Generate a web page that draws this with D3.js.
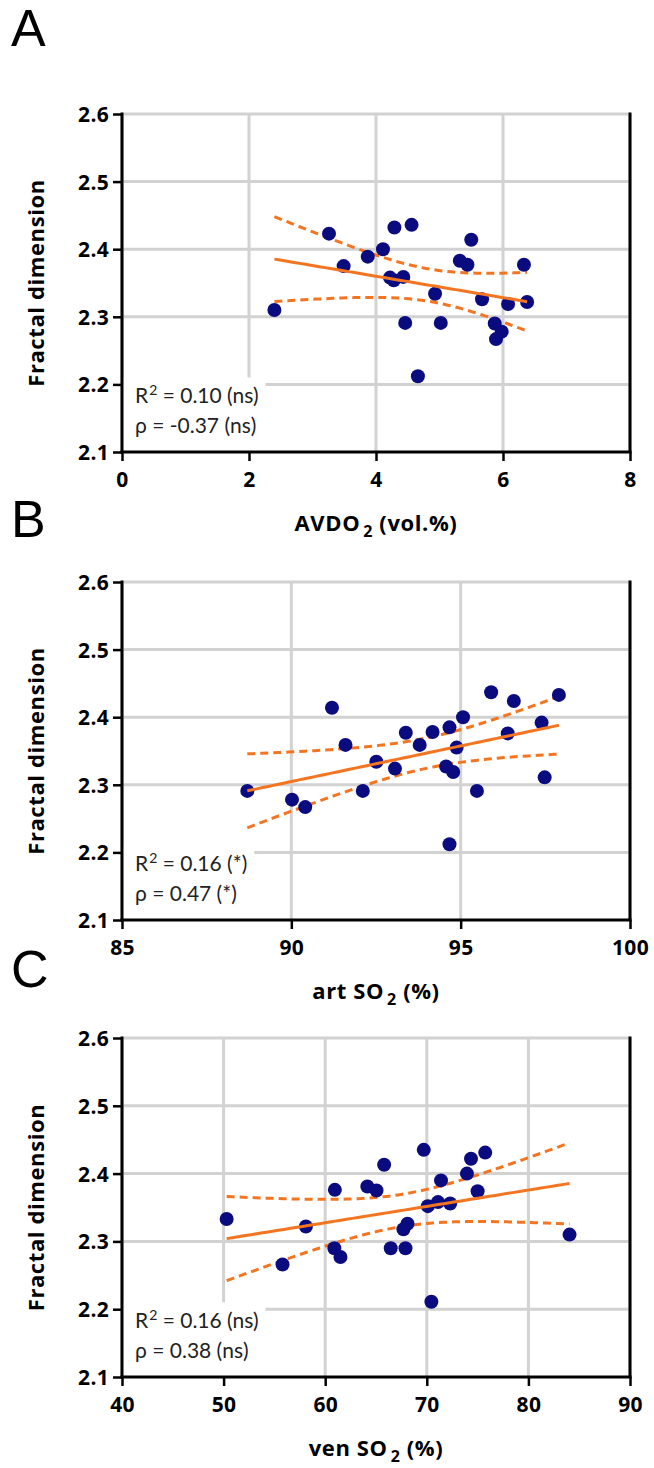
<!DOCTYPE html>
<html>
<head>
<meta charset="utf-8">
<script src="https://cdn.jsdelivr.net/npm/d3@7"></script>
<style>
  html, body { margin: 0; padding: 0; background: #fff; }
  svg { display: block; }
</style>
</head>
<body>
<script>
// ---------------- data ----------------
const yTicks = [2.1, 2.2, 2.3, 2.4, 2.5, 2.6];

// Panel A: AVDO2 (vol.%) vs fractal dimension
const avdo2 = [2.40, 3.26, 3.49, 3.87, 4.11, 4.29, 4.56, 4.22, 4.28, 4.43, 4.46, 4.66,
               4.93, 5.02, 5.32, 5.44, 5.50, 5.67, 5.87, 5.89, 5.98, 6.08, 6.33, 6.38];
const fractalA = [2.310, 2.423, 2.375, 2.389, 2.400, 2.432, 2.436, 2.358, 2.354, 2.359, 2.291, 2.212,
                  2.334, 2.291, 2.383, 2.377, 2.414, 2.326, 2.290, 2.267, 2.278, 2.319, 2.377, 2.322];
const xTicksA = [0, 2, 4, 6, 8];

// Panel B: art SO2 (%)
const artSO2 = [88.70, 90.02, 90.41, 91.20, 91.60, 92.11, 92.51, 93.06, 93.38, 93.79, 94.17, 94.67,
                94.57, 94.78, 94.88, 94.67, 95.07, 95.48, 95.90, 96.57, 96.39, 97.39, 97.48, 97.90];
const fractalB = [2.291, 2.278, 2.267, 2.414, 2.359, 2.291, 2.334, 2.324, 2.377, 2.359, 2.378, 2.385,
                  2.327, 2.319, 2.355, 2.212, 2.400, 2.291, 2.437, 2.424, 2.376, 2.392, 2.311, 2.433];
const xTicksB = [85, 90, 95, 100];

// Panel C: ven SO2 (%)
const venSO2 = [50.30, 55.80, 58.10, 60.95, 60.90, 61.50, 64.15, 65.05, 65.80, 66.45, 67.70, 68.10,
                67.90, 69.70, 70.10, 70.45, 71.10, 71.40, 72.30, 73.95, 74.35, 75.00, 75.75, 84.05];
const fractalC = [2.333, 2.266, 2.322, 2.376, 2.290, 2.277, 2.381, 2.375, 2.413, 2.290, 2.318, 2.326,
                  2.290, 2.435, 2.352, 2.211, 2.358, 2.390, 2.356, 2.400, 2.422, 2.374, 2.431, 2.310];
const xTicksC = [40, 50, 60, 70, 80, 90];

const panelLetters = ["A", "B", "C"];
const yTitle = "Fractal dimension";
const xTitles = [["AVDO", "2", " (vol.%)"], ["art SO", "2", " (%)"], ["ven SO", "2", " (%)"]];
const statsR2 = [" = 0.10 (ns)", " = 0.16 (*)", " = 0.16 (ns)"];
const statsRho = ["ρ = -0.37 (ns)", "ρ = 0.47 (*)", "ρ = 0.38 (ns)"];

// ---------------- layout / style ----------------
const W = 654, H = 1468;
const LEFT = 122, RIGHT = 630;
const panelTops = [114, 582, 1038];
const panelBottoms = [452, 920, 1377];
const letterBaselines = [46, 537, 987];
const GRID = "#d2d2d2", ORANGE = "#f47521", NAVY = "#0b0b80";

const panels = [
  { xs: avdo2, ys: fractalA, ticks: xTicksA, domain: [0, 8] },
  { xs: artSO2, ys: fractalB, ticks: xTicksB, domain: [85, 100] },
  { xs: venSO2, ys: fractalC, ticks: xTicksC, domain: [40, 90] }
];

const svg = d3.select("body").append("svg").attr("width", W).attr("height", H);

function fitLine(xs, ys) {
  const n = xs.length;
  const mx = d3.mean(xs), my = d3.mean(ys);
  let sxx = 0, sxy = 0;
  for (let i = 0; i < n; i++) { sxx += (xs[i] - mx) ** 2; sxy += (xs[i] - mx) * (ys[i] - my); }
  const b = sxy / sxx, a = my - b * mx;
  let sse = 0;
  for (let i = 0; i < n; i++) sse += (ys[i] - a - b * xs[i]) ** 2;
  const s = Math.sqrt(sse / (n - 2));
  const t = 2.074; // t(0.975, 22)
  const lo = d3.min(xs), hi = d3.max(xs);
  const grid = d3.range(0, 61).map(k => lo + (hi - lo) * k / 60);
  const band = grid.map(x => {
    const yhat = a + b * x;
    const h = t * s * Math.sqrt(1 / n + (x - mx) ** 2 / sxx);
    return { x, yhat, up: yhat + h, dn: yhat - h };
  });
  return { a, b, lo, hi, band };
}

panels.forEach((p, i) => {
  const top = panelTops[i], bottom = panelBottoms[i];
  const x = d3.scaleLinear().domain(p.domain).range([LEFT, RIGHT]);
  const y = d3.scaleLinear().domain([2.1, 2.6]).range([bottom, top]);
  const g = svg.append("g");

  // panel letter
  svg.append("text").attr("x", 11).attr("y", letterBaselines[i])
    .attr("font-family", "Liberation Sans, Arial, sans-serif").attr("font-size", 52)
    .attr("fill", "#000").text(panelLetters[i]);

  // gridlines
  g.selectAll(".vg").data(p.ticks).join("line")
    .attr("x1", d => x(d)).attr("x2", d => x(d)).attr("y1", top).attr("y2", bottom)
    .attr("stroke", GRID).attr("stroke-width", 3);
  g.selectAll(".hg").data(yTicks.slice(1)).join("line")
    .attr("x1", LEFT).attr("x2", RIGHT).attr("y1", d => y(d)).attr("y2", d => y(d))
    .attr("stroke", GRID).attr("stroke-width", 3);

  // stats box (white, hides the gridlines)
  const statsG = svg.append("g");
  const boxRect = statsG.append("rect").attr("fill", "#fff");
  const tx = 135;
  const t1 = statsG.append("text").attr("x", tx).attr("y", y(2.2) + 19)
    .attr("font-family", "Lato, sans-serif").attr("font-size", 21).attr("fill", "#222");
  t1.append("tspan").text("R");
  t1.append("tspan").attr("font-size", 14).attr("dy", -8).attr("dx", 1).text("2");
  t1.append("tspan").attr("dy", 8).text(statsR2[i]);
  const t2 = statsG.append("text").attr("x", tx).attr("y", y(2.2) + 49)
    .attr("font-family", "Lato, sans-serif").attr("font-size", 21).attr("fill", "#222")
    .text(statsRho[i]);
  const bb1 = t1.node().getBBox(), bb2 = t2.node().getBBox();
  const boxRight = Math.max(bb1.x + bb1.width, bb2.x + bb2.width) + 7;
  boxRect.attr("x", LEFT).attr("y", y(2.2) - 7).attr("width", boxRight - LEFT).attr("height", bottom - (y(2.2) - 7));

  // right border
  g.append("line").attr("x1", RIGHT).attr("x2", RIGHT).attr("y1", top - 1.5).attr("y2", bottom)
    .attr("stroke", "#000").attr("stroke-width", 3);

  // axes
  const xAxis = d3.axisBottom(x).tickValues(p.ticks).tickSize(9).tickSizeOuter(0).tickFormat(d3.format("d"));
  const ax = svg.append("g").attr("transform", `translate(0,${bottom})`).call(xAxis);
  ax.select(".domain").attr("stroke", "#000").attr("stroke-width", 3)
    .attr("d", `M${LEFT - 1.5},0H${RIGHT + 1.5}`);
  ax.selectAll(".tick line").attr("stroke", "#000").attr("stroke-width", 2.5);
  ax.selectAll(".tick text").attr("y", 35).attr("dy", null)
    .attr("font-family", "Open Sans, sans-serif").attr("font-weight", "bold")
    .attr("font-size", 21).attr("letter-spacing", 0.3).attr("fill", "#000");

  const yAxis = d3.axisLeft(y).tickValues(yTicks).tickSize(9).tickSizeOuter(0).tickFormat(d3.format(".1f"));
  const ay = svg.append("g").attr("transform", `translate(${LEFT},0)`).call(yAxis);
  ay.select(".domain").attr("stroke", "#000").attr("stroke-width", 3)
    .attr("d", `M0,${top - 1.5}V${bottom + 1.5}`);
  ay.selectAll(".tick line").attr("stroke", "#000").attr("stroke-width", 2.5);
  ay.selectAll(".tick text").attr("x", -13).attr("dy", "0.36em")
    .attr("font-family", "Open Sans, sans-serif").attr("font-weight", "bold")
    .attr("font-size", 21).attr("letter-spacing", 0.3).attr("fill", "#000");

  // y title
  svg.append("text").attr("transform", `translate(44,${(top + bottom) / 2}) rotate(-90)`)
    .attr("text-anchor", "middle").attr("font-family", "Open Sans, sans-serif")
    .attr("font-weight", "bold").attr("font-size", 22).attr("letter-spacing", 0.6)
    .attr("fill", "#000").text(yTitle);

  // x title
  const xt = svg.append("text").attr("x", (LEFT + RIGHT) / 2).attr("y", bottom + 79)
    .attr("text-anchor", "middle").attr("font-family", "Open Sans, sans-serif")
    .attr("font-weight", "bold").attr("font-size", 22).attr("letter-spacing", 0.6).attr("fill", "#000");
  xt.append("tspan").text(xTitles[i][0]);
  xt.append("tspan").attr("dx", 3).attr("dy", 6).attr("font-size", 16).text(xTitles[i][1]);
  xt.append("tspan").attr("dy", -6).text(xTitles[i][2]);

  // regression + confidence band
  const f = fitLine(p.xs, p.ys);
  const lineGen = key => d3.line().x(d => x(d.x)).y(d => y(d[key]));
  svg.append("path").datum(f.band).attr("d", lineGen("up")).attr("fill", "none")
    .attr("stroke", ORANGE).attr("stroke-width", 3).attr("stroke-dasharray", "8,5");
  svg.append("path").datum(f.band).attr("d", lineGen("dn")).attr("fill", "none")
    .attr("stroke", ORANGE).attr("stroke-width", 3).attr("stroke-dasharray", "8,5");

  // points
  svg.append("g").selectAll("circle").data(p.xs.map((v, k) => [v, p.ys[k]])).join("circle")
    .attr("cx", d => x(d[0])).attr("cy", d => y(d[1])).attr("r", 7).attr("fill", NAVY);

  svg.append("path").datum(f.band).attr("d", lineGen("yhat")).attr("fill", "none")
    .attr("stroke", ORANGE).attr("stroke-width", 3);
});
</script>
</body>
</html>
